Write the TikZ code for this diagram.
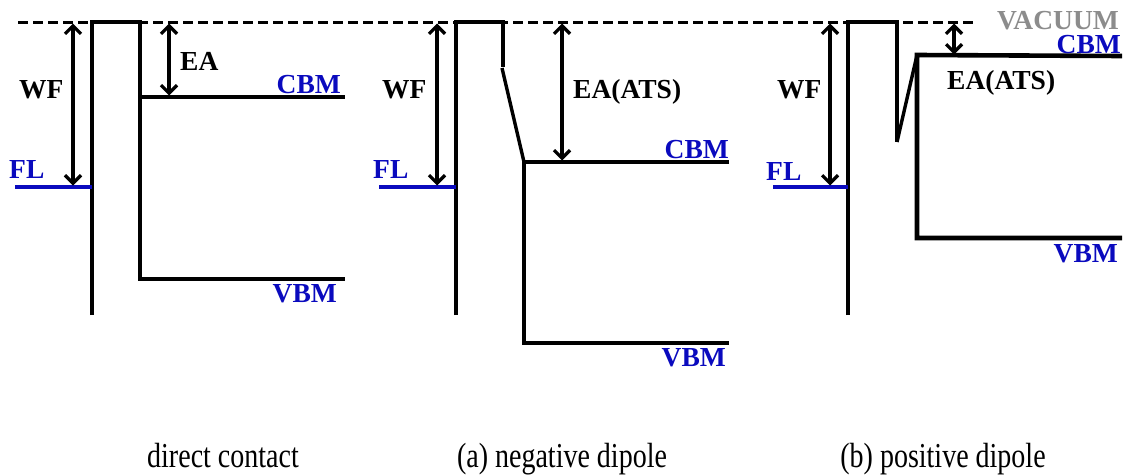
\documentclass[tikz,border=0pt]{standalone}
\usepackage{fontspec}
\setmainfont{Liberation Serif}
\usetikzlibrary{arrows.meta}
\definecolor{lvblue}{RGB}{10,10,190}
\definecolor{vacgray}{RGB}{140,140,140}
\tikzset{
  band/.style={line width=4.6pt, line join=miter},
  flline/.style={line width=4.6pt, draw=lvblue},
  vacline/.style={line width=3pt, dash pattern=on 10pt off 5pt},
  gap/.style={line width=3.2pt, {Straight Barb[length=8pt,width=16pt,line width=3.2pt]}-{Straight Barb[length=8pt,width=16pt,line width=3.2pt]}, shorten <=1.5pt, shorten >=1.5pt},
  lbl/.style={font=\fontsize{27.5}{30}\selectfont\bfseries, inner sep=0pt},
  blbl/.style={lbl, text=lvblue},
  captxt/.style={font=\fontsize{35}{38}\selectfont, inner sep=0pt, anchor=base}
}
\newcommand{\cond}[1]{\scalebox{0.8}[1]{#1}}
\begin{document}
\begin{tikzpicture}[x=1pt,y=-1pt]
\useasboundingbox (0,0) rectangle (1124,474);
% vacuum level
\coordinate (v0) at (18,22);
\coordinate (v1) at (975,22);
\draw[vacline] (v0) -- (v1);
\node[lbl, text=vacgray, anchor=base east] (vac) at (1119,29) {VACUUM};

% ===== panel 1: direct contact =====
\coordinate (m1b) at (92,315);
\coordinate (m1t) at (92,22);
\coordinate (s1t) at (140,22);
\coordinate (s1c) at (140,97);
\coordinate (s1v) at (140,279);
\coordinate (c1e) at (345,97);
\coordinate (v1e) at (345,279);
\draw[band] (m1b) -- (m1t) -- (s1t) -- (s1v) -- (v1e);
\draw[band] (s1c) -- (c1e);
\coordinate (f1s) at (15,187);
\coordinate (f1e) at (92,187);
\draw[flline] (f1s) -- (f1e);
\coordinate (w1t) at (73,22);
\coordinate (w1b) at (73,187);
\draw[gap] (w1t) -- (w1b);
\coordinate (e1t) at (169,22);
\coordinate (e1b) at (169,97);
\draw[gap] (e1t) -- (e1b);
\node[lbl, anchor=base west] (wf1) at (19,98) {WF};
\node[lbl, anchor=base west] (ea1) at (180,70) {EA};
\node[blbl, anchor=base west] (fl1) at (9,178) {FL};
\node[blbl, anchor=base east] (cbm1) at (341,93) {CBM};
\node[blbl, anchor=base east] (vbm1) at (337,302) {VBM};
\node[captxt] (cap1) at (223,467) {\cond{direct contact}};

% ===== panel 2: negative dipole =====
\coordinate (m2b) at (456,315);
\coordinate (m2t) at (456,22);
\coordinate (s2t) at (503,22);
\coordinate (s2k) at (503,67);
\coordinate (s2k2) at (502,68);
\coordinate (s2c) at (524,162);
\coordinate (s2v) at (524,343);
\coordinate (c2e) at (729,162);
\coordinate (v2e) at (729,343);
\draw[band] (m2b) -- (m2t) -- (s2t) -- (s2k);
\draw[band, line width=3.4pt] (s2k2) -- (s2c);
\draw[band] (c2e) -- (s2c) -- (s2v) -- (v2e);
\coordinate (f2s) at (379,187);
\coordinate (f2e) at (456,187);
\draw[flline] (f2s) -- (f2e);
\coordinate (w2t) at (437,22);
\coordinate (w2b) at (437,187);
\draw[gap] (w2t) -- (w2b);
\coordinate (e2t) at (562,22);
\coordinate (e2b) at (562,162);
\draw[gap] (e2t) -- (e2b);
\node[lbl, anchor=base west] (wf2) at (382,98) {WF};
\node[lbl, anchor=base west] (ea2) at (573,98) {EA(ATS)};
\node[blbl, anchor=base west] (fl2) at (373,178) {FL};
\node[blbl, anchor=base east] (cbm2) at (729,158) {CBM};
\node[blbl, anchor=base east] (vbm2) at (726,366) {VBM};
\node[captxt] (cap2) at (562,467) {\cond{(a) negative dipole}};

% ===== panel 3: positive dipole =====
\coordinate (m3b) at (848,315);
\coordinate (m3t) at (848,22);
\coordinate (s3t) at (897,22);
\coordinate (s3k) at (897,142);
\coordinate (s3c) at (917,55);
\coordinate (s3v) at (917,238);
\coordinate (c3e) at (1122,56);
\coordinate (v3e) at (1122,238);
\draw[band] (m3b) -- (m3t) -- (s3t) -- (s3k);
\draw[band, line width=3.4pt] (s3k) -- (s3c);
\draw[band] (c3e) -- (s3c) -- (s3v) -- (v3e);
\coordinate (f3s) at (773,187);
\coordinate (f3e) at (848,187);
\draw[flline] (f3s) -- (f3e);
\coordinate (w3t) at (830,22);
\coordinate (w3b) at (830,187);
\draw[gap] (w3t) -- (w3b);
\coordinate (e3t) at (954,22);
\coordinate (e3b) at (954,56);
\draw[gap] (e3t) -- (e3b);
\node[lbl, anchor=base west] (wf3) at (777,98) {WF};
\node[lbl, anchor=base west] (ea3) at (947,89) {EA(ATS)};
\node[blbl, anchor=base west] (fl3) at (766,180) {FL};
\node[blbl, anchor=base east] (cbm3) at (1121,53) {CBM};
\node[blbl, anchor=base east] (vbm3) at (1118,262) {VBM};
\node[captxt] (cap3) at (943,467) {\cond{(b) positive dipole}};
\end{tikzpicture}
\end{document}
